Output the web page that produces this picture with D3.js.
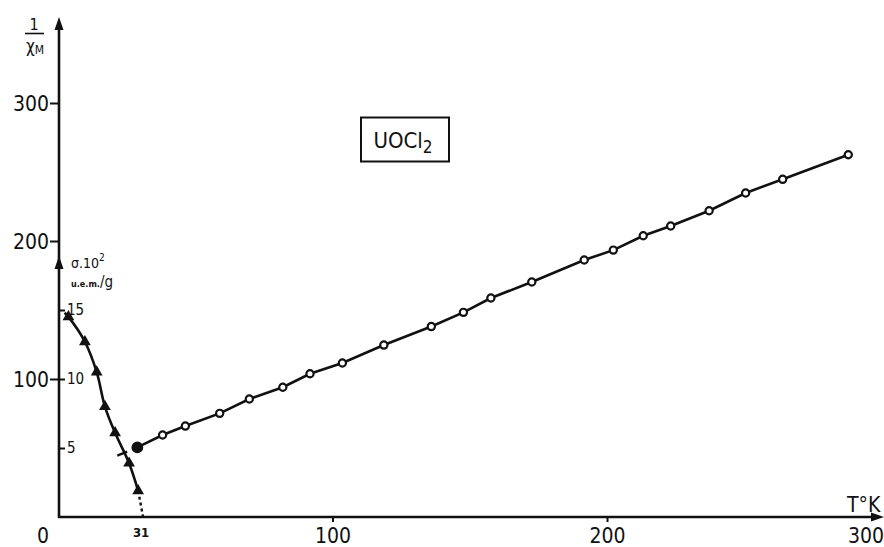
<!DOCTYPE html>
<html>
<head>
<meta charset="utf-8">
<script src="https://cdn.jsdelivr.net/npm/d3@7"></script>
<style>
  html, body { margin: 0; padding: 0; background: #fff; }
  svg { display: block; }
  text { font-family: "DejaVu Sans Condensed", "DejaVu Sans", sans-serif; fill: #111; }
</style>
</head>
<body>
<svg id="chart" width="884" height="547"></svg>
<script>
// Reciprocal molar susceptibility 1/χM against temperature (open circles)
const tempChi = [28.9, 38.1, 46.4, 58.9, 69.7, 81.9, 91.8, 103.6, 118.7, 136, 147.7, 157.7, 172.6, 191.7, 202.3, 213.2, 223.2, 237.2, 250.5, 264, 287.9];
const invChi  = [50.4, 59.4, 65.9, 75.1, 85.5, 94.0, 103.8, 111.6, 124.6, 138, 148.3, 158.7, 170.3, 186.2, 193.4, 203.8, 210.9, 221.9, 234.8, 244.7, 262.5];

// Spontaneous magnetisation σ·10² (u.e.m./g) below the Curie point (triangles)
const tempSigma = [3.8, 9.8, 14.1, 17.1, 20.8, 25.9, 29.2];
const sigma     = [14.5, 12.7, 10.5, 8.0, 6.1, 3.9, 1.9];
const curieT = 31;

// Axis ticks
const xTicks = [100, 200, 300];
const yTicks = [100, 200, 300];
const sigmaTicks = [5, 10, 15];

const svg = d3.select("#chart");
const ink = "#111";

const x = d3.scaleLinear().domain([0, 300]).range([58, 881.5]);
const y = d3.scaleLinear().domain([0, 300]).range([517, 103]);
const ys = d3.scaleLinear().domain([0, 30]).range([517, 103]);

// --- axes ---
const axisW = 2.6;
svg.append("line").attr("x1", x(0)).attr("x2", 876).attr("y1", y(0)).attr("y2", y(0))
  .attr("stroke", ink).attr("stroke-width", axisW);
svg.append("line").attr("x1", x(0) + 1).attr("x2", x(0) + 1).attr("y1", y(0) + 1).attr("y2", 26)
  .attr("stroke", ink).attr("stroke-width", axisW);

// arrowheads
function arrow(tipX, tipY, dir) {
  const L = 13, W = 4.5;
  let pts;
  if (dir === "up") pts = [[tipX, tipY], [tipX - W, tipY + L], [tipX + W, tipY + L]];
  else pts = [[tipX, tipY], [tipX - L, tipY - W], [tipX - L, tipY + W]];
  svg.append("path").attr("d", d3.line()(pts) + "Z").attr("fill", ink);
}
arrow(x(0) + 1, 17, "up");
arrow(x(0) + 1, 256, "up");
arrow(884, y(0), "right");

// y axis (1/χM) ticks on the left
const yAxis = d3.axisLeft(y).tickValues(yTicks).tickSize(9).tickPadding(1).tickFormat(d3.format("d"));
const gy = svg.append("g").attr("transform", `translate(${x(0) + 1},0)`).call(yAxis);
gy.select(".domain").remove();
gy.selectAll("line").attr("stroke", ink).attr("stroke-width", 2);
gy.selectAll("text").attr("font-size", 21).attr("dy", "0.36em").attr("fill", ink);

// σ axis ticks on the right side of the same vertical line
const sAxis = d3.axisRight(ys).tickValues(sigmaTicks).tickSize(6).tickPadding(2).tickFormat(d3.format("d"));
const gs = svg.append("g").attr("transform", `translate(${x(0) + 1},0)`).call(sAxis);
gs.select(".domain").remove();
gs.selectAll("line").attr("stroke", ink).attr("stroke-width", 2);
gs.selectAll("text").attr("font-size", 15).attr("fill", ink);

// x axis
const xAxis = d3.axisBottom(x).tickValues(xTicks).tickSize(5).tickPadding(6).tickFormat(d3.format("d"));
const gx = svg.append("g").attr("transform", `translate(0,${y(0)})`).call(xAxis);
gx.select(".domain").remove();
gx.selectAll("line").attr("stroke", ink).attr("stroke-width", 2);
gx.selectAll(".tick").filter(d => d === 300).select("line").remove();
gx.selectAll(".tick").filter(d => d === 300).select("text").attr("x", -16);
gx.selectAll("text").attr("font-size", 21).attr("fill", ink);

// origin and Curie temperature labels
svg.append("text").attr("x", 43).attr("y", 543).attr("text-anchor", "middle")
  .attr("font-size", 21).text("0");
svg.append("text").attr("x", x(curieT) - 2).attr("y", 537).attr("text-anchor", "middle")
  .attr("font-size", 13).attr("font-weight", "bold").text("31");

// axis titles
svg.append("text").attr("x", 34).attr("y", 30).attr("text-anchor", "middle")
  .attr("font-size", 16).text("1");
svg.append("line").attr("x1", 25).attr("x2", 44).attr("y1", 33.5).attr("y2", 33.5)
  .attr("stroke", ink).attr("stroke-width", 1.6);
const chiLbl = svg.append("text").attr("x", 26).attr("y", 52).attr("font-size", 17);
chiLbl.append("tspan").text("χ");
chiLbl.append("tspan").attr("font-size", 12).attr("dy", 2).text("M");

svg.append("text").attr("x", 847).attr("y", 512).attr("font-size", 21).text("T°K");

const sLbl = svg.append("text").attr("x", 71).attr("y", 268).attr("font-size", 14);
sLbl.append("tspan").text("σ.10");
sLbl.append("tspan").attr("font-size", 10).attr("dy", -7).text("2");
const uLbl2 = svg.append("text").attr("x", 71).attr("y", 287);
uLbl2.append("tspan").attr("font-size", 9).attr("font-weight", "bold").text("u.e.m.");
uLbl2.append("tspan").attr("font-size", 15).text("/g");

// compound label in a box
svg.append("rect").attr("x", 361).attr("y", 117.5).attr("width", 88).attr("height", 44)
  .attr("fill", "none").attr("stroke", ink).attr("stroke-width", 2);
const uLbl = svg.append("text").attr("x", 403).attr("y", 147.5).attr("text-anchor", "middle").attr("font-size", 22);
uLbl.append("tspan").text("UOCl");
uLbl.append("tspan").attr("font-size", 17).attr("dy", 5).text("2");

// --- 1/χM line and points ---
const chiPts = tempChi.map((t, i) => [t, invChi[i]]);
svg.append("path").datum(chiPts)
  .attr("d", d3.line().x(d => x(d[0])).y(d => y(d[1])))
  .attr("fill", "none").attr("stroke", ink).attr("stroke-width", 2.6);

// short extrapolation of the Curie–Weiss line toward lower T
const slope = (invChi[invChi.length - 1] - invChi[0]) / (tempChi[tempChi.length - 1] - tempChi[0]);
const extT = [21.6, 25.2];
svg.append("line")
  .attr("x1", x(extT[0])).attr("y1", y(invChi[0] + slope * (extT[0] - tempChi[0])))
  .attr("x2", x(extT[1])).attr("y2", y(invChi[0] + slope * (extT[1] - tempChi[0])))
  .attr("stroke", ink).attr("stroke-width", 2.4);

svg.selectAll("circle.chi").data(chiPts).join("circle")
  .attr("class", "chi")
  .attr("cx", d => x(d[0])).attr("cy", d => y(d[1]))
  .attr("r", (d, i) => i === 0 ? 4.8 : 3.6)
  .attr("fill", (d, i) => i === 0 ? ink : "#fff")
  .attr("stroke", ink).attr("stroke-width", 2.2);

// --- σ(T) curve and triangles ---
const sigPts = tempSigma.map((t, i) => [t, sigma[i]]);
const curvePts = [[2.4, 14.8], ...sigPts];
svg.append("path").datum(curvePts)
  .attr("d", d3.line().curve(d3.curveCatmullRom.alpha(0.5)).x(d => x(d[0])).y(d => ys(d[1])))
  .attr("fill", "none").attr("stroke", ink).attr("stroke-width", 2.6);
// dotted continuation down to the Curie point
const last = sigPts[sigPts.length - 1];
svg.append("line")
  .attr("x1", x(last[0])).attr("y1", ys(last[1]))
  .attr("x2", x(curieT)).attr("y2", ys(0))
  .attr("stroke", ink).attr("stroke-width", 2.4).attr("stroke-dasharray", "3,3");

svg.selectAll("path.tri").data(sigPts).join("path")
  .attr("class", "tri")
  .attr("transform", d => `translate(${x(d[0])},${ys(d[1])})`)
  .attr("d", d3.symbol(d3.symbolTriangle, 60))
  .attr("fill", ink);
</script>
</body>
</html>
